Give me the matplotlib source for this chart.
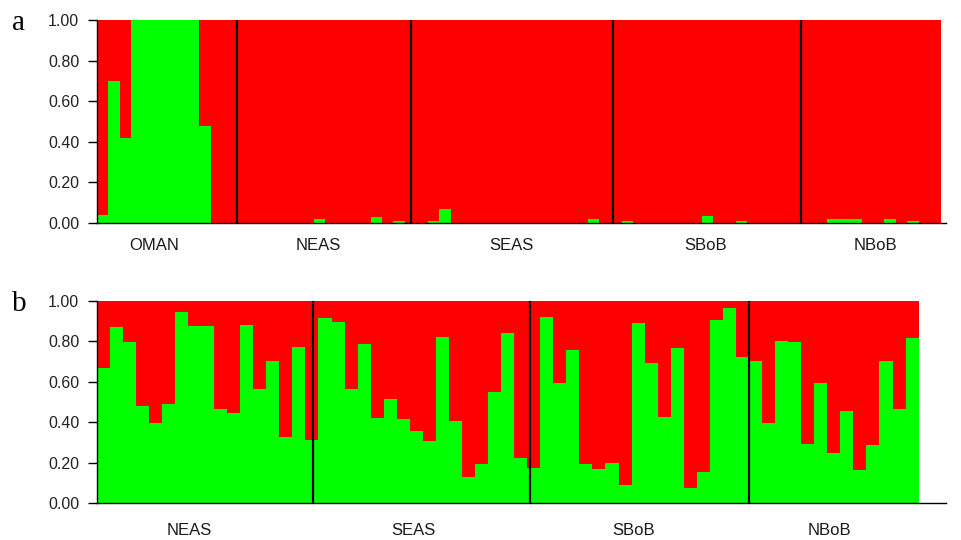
import numpy as np
import matplotlib
matplotlib.use("Agg")
import matplotlib.pyplot as plt
from matplotlib.transforms import blended_transform_factory

# ---------------- data ----------------
groups = ["OMAN", "NEAS", "SEAS", "SBoB", "NBoB"]

# panel a: green (cluster 1) proportion per individual
oman_a = [0.04, 0.70, 0.42, 1.0, 1.0, 1.0, 1.0, 1.0, 1.0, 0.48, 0.0, 0.0]
neas_a = [0, 0, 0, 0, 0, 0, 0, 0.02, 0, 0, 0, 0, 0.03, 0, 0.01, 0]
seas_a = [0, 0.01, 0.07, 0, 0, 0, 0, 0, 0, 0, 0, 0, 0, 0, 0, 0.02, 0]
sbob_a = [0, 0.01, 0, 0, 0, 0, 0, 0, 0.035, 0, 0, 0.01, 0, 0, 0, 0, 0]
nbob_a = [0, 0, 0.02, 0.02, 0.02, 0, 0, 0.02, 0, 0.01, 0, 0]

# panel b
neas_b = [0.67, 0.873, 0.795, 0.48, 0.394, 0.488, 0.947, 0.878, 0.878, 0.464,
          0.447, 0.881, 0.563, 0.703, 0.325, 0.774, 0.31]
seas_b = [0.917, 0.894, 0.564, 0.787, 0.419, 0.513, 0.416, 0.356, 0.307, 0.823,
          0.406, 0.127, 0.191, 0.551, 0.843, 0.221, 0.175]
sbob_b = [0.922, 0.596, 0.757, 0.193, 0.167, 0.2, 0.089, 0.889, 0.695, 0.424,
          0.766, 0.073, 0.155, 0.906, 0.967, 0.724]
nbob_b = [0.703, 0.394, 0.802, 0.795, 0.292, 0.592, 0.249, 0.457, 0.163, 0.287,
          0.703, 0.465, 0.815]

yticks = [0.0, 0.2, 0.4, 0.6, 0.8, 1.0]
ytick_labels = ["0.00", "0.20", "0.40", "0.60", "0.80", "1.00"]

# ---------------- layout / style ----------------
GREEN = "#00FF00"
RED = "#FF0000"
SANS = ["Liberation Sans", "DejaVu Sans"]
SERIF = ["Liberation Serif", "DejaVu Serif"]

fig = plt.figure(figsize=(9.61, 5.40), dpi=100)
W, H = 961, 540


def px_axes(left, right, top, bottom):
    return fig.add_axes([left / W, 1 - bottom / H, (right - left) / W, (bottom - top) / H])


def draw_panel(ax, group_vals, group_names, xmax, div_nudge, lab_nudge, lab_y):
    vals = np.concatenate([np.asarray(v, float) for v in group_vals])
    n = len(vals)
    x = np.arange(n)
    ax.bar(x, vals, width=1.0, align="edge", color=GREEN, linewidth=0, antialiased=False)
    ax.bar(x, 1 - vals, bottom=vals, width=1.0, align="edge", color=RED,
           linewidth=0, antialiased=False)
    sizes = [len(v) for v in group_vals]
    bounds = np.cumsum([0] + sizes)
    for i, b in enumerate(bounds[1:-1]):
        ax.vlines(b + div_nudge[i], 0, 1, color="black", lw=1.6, zorder=3)
    trans = blended_transform_factory(ax.transData, ax.transAxes)
    for i, name in enumerate(group_names):
        cx = (bounds[i] + bounds[i + 1]) / 2 + lab_nudge[i]
        ax.text(cx, lab_y, name, transform=trans, ha="center", va="center",
                fontsize=12, family=SANS, color="#1a1a1a")
    ax.set_xlim(0, xmax)
    ax.set_ylim(0, 1)
    ax.set_xticks([])
    ax.set_yticks(yticks)
    ax.set_yticklabels(ytick_labels, family=SANS, fontsize=11.5, color="#222222")
    ax.tick_params(axis="y", direction="out", length=6.5, width=1, pad=6, color="black")
    for s in ["top", "right"]:
        ax.spines[s].set_visible(False)
    for s in ["left", "bottom"]:
        ax.spines[s].set_linewidth(1.0)
        ax.spines[s].set_color("black")


ax_a = px_axes(96.7, 946, 20, 223)
draw_panel(ax_a, [oman_a, neas_a, seas_a, sbob_a, nbob_a], groups,
           xmax=74.4, div_nudge=[0.28, -0.43, 0.2, -0.3],
           lab_nudge=[-1.0, -0.6, -0.2, -0.2, 0.2], lab_y=-0.113)

ax_b = px_axes(96.7, 946, 301, 503)
draw_panel(ax_b, [neas_b, seas_b, sbob_b, nbob_b], groups[1:],
           xmax=65.1, div_nudge=[-0.44, -0.77, 0.02],
           lab_nudge=[-1.42, -1.24, -0.87, -0.34], lab_y=-0.134)

fig.text(12 / W, 1 - 30 / H, "a", family=SERIF, fontsize=21, ha="left", va="baseline")
fig.text(12 / W, 1 - 311 / H, "b", family=SERIF, fontsize=21, ha="left", va="baseline")

fig.savefig("out.png", dpi=100)
